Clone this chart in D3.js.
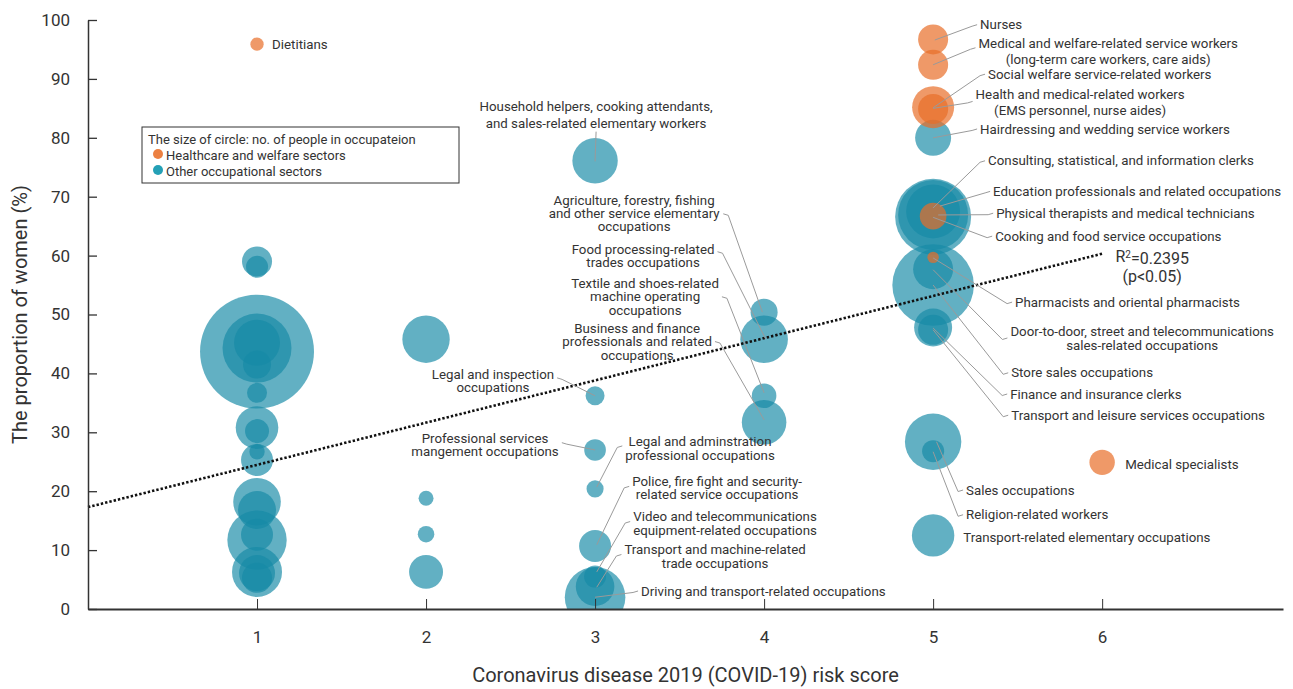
<!DOCTYPE html>
<html>
<head>
<meta charset="utf-8">
<script src="https://cdn.jsdelivr.net/npm/d3@7"></script>
<style>
  html, body { margin: 0; padding: 0; background: #fff; }
  svg text { font-family: Roboto, "Liberation Sans", Arial, sans-serif; fill: #333; }
  .axis path, .axis line { stroke: #333; }
  .axis text { font-size: 17px; fill: #333; }
</style>
</head>
<body>
<div id="chart"></div>
<script>
// bubbles: risk score, % women, people (thousands, approx.), sector
const riskScore = [
  1, 1, 1, 1, 1, 1, 1, 1, 1, 1, 1, 1, 1, 1, 1, 1, 1, 1, 1,
  2, 2, 2, 2,
  3, 3, 3, 3, 3, 3, 3, 3,
  4, 4, 4, 4,
  5, 5, 5, 5, 5, 5, 5, 5, 5, 5, 5, 5, 5, 5, 5, 5, 5,
  6
];
const womenPct = [
  59.0, 58.1, 43.7, 44.3, 45.2, 41.5, 36.7, 30.8, 30.2, 25.3, 26.7, 18.2, 16.8, 11.7, 12.6, 6.3, 6.1, 5.3, 95.9,
  45.8, 18.8, 12.7, 6.3,
  76.1, 36.2, 27.0, 20.4, 10.7, 5.5, 3.8, 2.0,
  50.4, 45.8, 36.2, 31.7,
  96.7, 92.4, 85.2, 84.9, 80.0, 67.5, 66.6, 66.9, 66.7, 59.7, 57.7, 55.0, 47.8, 47.4, 28.4, 26.8, 12.5,
  24.9
];
const people = [
  158, 85, 2274, 833, 370, 137, 70, 318, 101, 179, 41, 397, 253, 617, 179, 438, 227, 158, 31,
  393, 39, 48, 202,
  361, 63, 82, 51, 179, 85, 261, 643,
  128, 397, 106, 348,
  158, 158, 309, 158, 227, 510, 1011, 858, 124, 23, 280, 1165, 253, 158, 557, 85, 315,
  113
];
// H = healthcare and welfare, O = other
const sector = [
  "O", "O", "O", "O", "O", "O", "O", "O", "O", "O", "O", "O", "O", "O", "O", "O", "O", "O", "H",
  "O", "O", "O", "O",
  "O", "O", "O", "O", "O", "O", "O", "O",
  "O", "O", "O", "O",
  "H", "H", "H", "H", "O", "O", "O", "O", "H", "H", "O", "O", "O", "O", "O", "O", "O",
  "H"
];

const xTicks = [1, 2, 3, 4, 5, 6];
const yTicks = [0, 10, 20, 30, 40, 50, 60, 70, 80, 90, 100];

// regression line: % women = a + b * score
const trend = { a: 17.3, b: 7.17, from: 0, to: 6 };

// labels: text lines, anchor point (data units), leader target (data units)
const notes = [
  { t: ["Dietitians"], at: [1.089, 95.8], a: "start" },
  { t: ["Nurses"], at: [5.278, 99.2], a: "start", to: [5.01, 96.6], side: "left", row: 0 },
  { t: ["Medical and welfare-related service workers", "(long-term care workers, care aids)"], at: [6.036, 96.1], a: "middle", lh: 16, to: [5.0, 92.4], side: "left", row: 0.3 },
  { t: ["Social welfare service-related workers"], at: [5.325, 90.8], a: "start", to: [5.0, 85.1], side: "left", row: 0 },
  { t: ["Health and medical-related workers", "(EMS personnel, nurse aides)"], at: [5.870, 87.4], a: "middle", lh: 16, to: [5.0, 85.0], side: "left", row: 0.45 },
  { t: ["Hairdressing and wedding service workers"], at: [5.278, 81.5], a: "start", to: [5.0, 80.0], side: "left", row: 0 },
  { t: ["Consulting, statistical, and information clerks"], at: [5.325, 76.1], a: "start", to: [5.0, 68.1], side: "left", row: 0 },
  { t: ["Education professionals and related occupations"], at: [5.355, 70.9], a: "start", to: [5.04, 68.4], side: "left", row: 0 },
  { t: ["Physical therapists and medical technicians"], at: [5.373, 67.2], a: "start", to: [5.03, 66.9], side: "left", row: 0 },
  { t: ["Cooking and food service occupations"], at: [5.367, 63.3], a: "start", to: [5.0, 66.5], side: "left", row: 0 },
  { t: ["Pharmacists and oriental pharmacists"], at: [5.485, 52.1], a: "start", to: [5.0, 59.6], side: "left", row: 0 },
  { t: ["Door-to-door, street and telecommunications", "sales-related occupations"], at: [6.237, 47.2], a: "middle", to: [5.0, 57.6], side: "left", row: 0.5 },
  { t: ["Store sales occupations"], at: [5.462, 40.1], a: "start", to: [5.0, 55.0], side: "left", row: 0 },
  { t: ["Finance and insurance clerks"], at: [5.456, 36.5], a: "start", to: [5.0, 47.7], side: "left", row: 0 },
  { t: ["Transport and leisure services occupations"], at: [5.462, 32.9], a: "start", to: [5.0, 47.4], side: "left", row: 0 },
  { t: ["Medical specialists"], at: [6.136, 24.6], a: "start" },
  { t: ["Sales occupations"], at: [5.195, 20.2], a: "start", to: [5.02, 28.4], side: "left", row: 0 },
  { t: ["Religion-related workers"], at: [5.195, 16.0], a: "start", to: [5.0, 26.7], side: "left", row: 0 },
  { t: ["Transport-related elementary occupations"], at: [5.178, 12.2], a: "start" },
  { t: ["Household helpers, cooking attendants,", "and sales-related elementary workers"], at: [3.006, 85.4], a: "middle", lh: 17, to: [3.0, 76.0], side: "below" },
  { t: ["Agriculture, forestry, fishing", "and other service elementary", "occupations"], at: [3.231, 69.3], a: "middle", lh: 13, to: [3.99, 50.4], side: "right", row: 1 },
  { t: ["Food processing-related", "trades occupations"], at: [3.284, 61.1], a: "middle", lh: 13, to: [4.01, 45.8], side: "right", row: 0.2 },
  { t: ["Textile and shoes-related", "machine operating", "occupations"], at: [3.296, 55.3], a: "middle", lh: 13.5, to: [4.0, 36.7], side: "right", row: 1 },
  { t: ["Business and finance", "professionals and related", "occupations"], at: [3.249, 47.7], a: "middle", lh: 13.5, to: [4.0, 32.1], side: "right", row: 1 },
  { t: ["Legal and inspection", "occupations"], at: [2.396, 39.9], a: "middle", lh: 13, to: [3.0, 36.2], side: "right", row: 0.3 },
  { t: ["Professional services", "mangement occupations"], at: [2.349, 28.9], a: "middle", lh: 13, to: [3.0, 27.0], side: "right", row: 0.3 },
  { t: ["Legal and adminstration", "professional occupations"], at: [3.621, 28.4], a: "middle", to: [3.01, 20.7], side: "left", row: 0.3 },
  { t: ["Police, fire fight and security-", "related service occupations"], at: [3.722, 21.7], a: "middle", lh: 13, to: [3.01, 10.9], side: "left", row: 0.4 },
  { t: ["Video and telecommunications", "equipment-related occupations"], at: [3.769, 15.8], a: "middle", to: [3.01, 6.3], side: "left", row: 0.4 },
  { t: ["Transport and machine-related", "trade occupations"], at: [3.710, 10.2], a: "middle", to: [3.01, 3.7], side: "left", row: 0.4 },
  { t: ["Driving and transport-related occupations"], at: [3.272, 3.06], a: "start", to: [3.0, 2.0], side: "left", row: 0 }
];

const W = 1293, H = 689;
const margin = { top: 20, right: 10, bottom: 80, left: 88 };
const orange = "rgb(232,110,40)", teal = "rgb(22,138,166)";

const svg = d3.select("#chart").append("svg").attr("width", W).attr("height", H);

const x = d3.scaleLinear().domain([0, 7.07]).range([margin.left, W - margin.right]);
const y = d3.scaleLinear().domain([0, 100]).range([H - margin.bottom, margin.top]);
const r = d3.scaleSqrt().domain([0, 2300]).range([0, 57.3]);

const data = riskScore.map((s, i) => ({ s, p: womenPct[i], n: people[i], sec: sector[i] }));

svg.append("clipPath").attr("id", "plot")
  .append("rect")
  .attr("x", margin.left).attr("y", 0)
  .attr("width", W - margin.left).attr("height", y(0));

// bubbles: other sectors first, healthcare on top
const bub = svg.append("g").attr("clip-path", "url(#plot)");
bub.selectAll("circle")
  .data(data.filter(d => d.sec === "O").concat(data.filter(d => d.sec === "H")))
  .join("circle")
  .attr("cx", d => x(d.s))
  .attr("cy", d => y(d.p))
  .attr("r", d => r(d.n))
  .attr("fill", d => d.sec === "H" ? orange : teal)
  .attr("fill-opacity", d => d.sec === "H" ? 0.7 : 0.675);

// trend line
svg.append("line")
  .attr("x1", x(trend.from)).attr("y1", y(trend.a + trend.b * trend.from))
  .attr("x2", x(trend.to)).attr("y2", y(trend.a + trend.b * trend.to))
  .attr("stroke", "#111").attr("stroke-width", 2.6).attr("stroke-dasharray", "2.4,2");

// axes
const xAxisG = svg.append("g").attr("class", "axis")
  .attr("transform", `translate(0,${y(0)})`)
  .call(d3.axisBottom(x).tickValues(xTicks).tickFormat(d3.format("d"))
    .tickSize(-10).tickSizeOuter(0).tickPadding(22));
xAxisG.select(".domain").attr("stroke-width", 2);

const yAxisG = svg.append("g").attr("class", "axis")
  .attr("transform", `translate(${margin.left},0)`)
  .call(d3.axisLeft(y).tickValues(yTicks).tickSize(-9).tickSizeOuter(0).tickPadding(18));
yAxisG.select(".domain").attr("stroke-width", 1.5);
yAxisG.selectAll(".tick line").attr("stroke-width", 1.3);

svg.append("text")
  .attr("x", (margin.left + W - margin.right) / 2)
  .attr("y", 682)
  .attr("text-anchor", "middle")
  .style("font-size", "20px")
  .text("Coronavirus disease 2019 (COVID-19) risk score");

svg.append("text")
  .attr("transform", `translate(27,${(y(0) + y(100)) / 2}) rotate(-90)`)
  .attr("text-anchor", "middle")
  .style("font-size", "20px")
  .text("The proportion of women (%)");

// annotations
const ann = svg.append("g").style("font-size", "13.3px");
notes.forEach(n => {
  const lh = n.lh || 14;
  const tx = x(n.at[0]), ty = y(n.at[1]);
  const txt = ann.append("text").attr("text-anchor", n.a).attr("y", ty);
  n.t.forEach((line, i) => {
    txt.append("tspan").attr("x", tx).attr("y", ty + i * lh).attr("dy", "0.35em").text(line);
  });
  if (!n.to) return;
  const bb = txt.node().getBBox();
  const end = [x(n.to[0]), y(n.to[1])];
  let pts;
  if (n.side === "below") {
    pts = [[tx, bb.y + bb.height + 1], end];
  } else {
    const ly = ty + (n.row || 0) * lh;
    const ax = n.side === "left" ? bb.x - 3 : bb.x + bb.width + 3;
    const ex = n.side === "left" ? ax - 5 : ax + 5;
    pts = [[ax, ly], [ex, ly + 1.5], end];
  }
  ann.append("path")
    .attr("d", d3.line()(pts))
    .attr("fill", "none")
    .attr("stroke", "#9a9a9a")
    .attr("stroke-width", 1);
});

// R squared
const rsq = svg.append("text").attr("text-anchor", "middle").style("font-size", "16px");
rsq.append("tspan").attr("x", x(6.296)).attr("y", y(59.9)).attr("dy", "0.35em").text("R")
  .append("tspan").attr("dy", "-0.4em").style("font-size", "10px").text("2");
rsq.append("tspan").attr("dy", "0.4em").text("=0.2395");
rsq.append("tspan").attr("x", x(6.296)).attr("y", y(56.5)).attr("dy", "0.35em").text("(p<0.05)");

// legend
const lg = svg.append("g").attr("transform", "translate(142,127)");
lg.append("rect").attr("width", 317).attr("height", 56)
  .attr("fill", "#fff").attr("stroke", "#333").attr("stroke-width", 1);
lg.append("text").attr("x", 6).attr("y", 12).attr("dy", "0.35em").style("font-size", "13px")
  .text("The size of circle: no. of people in occupateion");
[["Healthcare and welfare sectors", "rgb(236,128,66)"], ["Other occupational sectors", "rgb(36,160,182)"]].forEach((it, i) => {
  const gy = 27 + i * 16;
  lg.append("circle").attr("cx", 16).attr("cy", gy).attr("r", 5).attr("fill", it[1]);
  lg.append("text").attr("x", 24).attr("y", gy + 1).attr("dy", "0.35em").style("font-size", "13px").text(it[0]);
});
</script>
</body>
</html>
